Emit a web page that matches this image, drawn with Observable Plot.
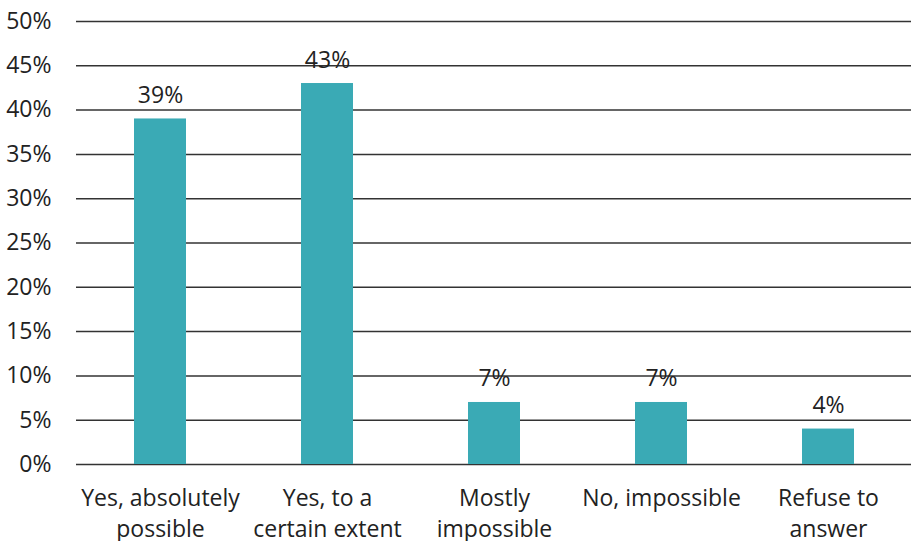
<!DOCTYPE html>
<html>
<head>
<meta charset="utf-8">
<script src="https://cdn.jsdelivr.net/npm/d3@7"></script>
<script src="https://cdn.jsdelivr.net/npm/@observablehq/plot@0.6"></script>
<style>
  html, body { margin: 0; padding: 0; background: #fff; }
  #chart svg { display: block; }
</style>
</head>
<body>
<div id="chart"></div>
<script>
const categories = ["Yes, absolutely\npossible", "Yes, to a\ncertain extent", "Mostly\nimpossible", "No, impossible", "Refuse to\nanswer"];
const values = [39, 43, 7, 7, 4];
const yTicks = [0, 5, 10, 15, 20, 25, 30, 35, 40, 45, 50];

const data = categories.map((c, i) => ({category: c, value: values[i]}));

const chart = Plot.plot({
  width: 911,
  height: 541,
  marginLeft: 76,
  marginRight: 0,
  marginTop: 21,
  marginBottom: 77,
  style: {fontFamily: "'Open Sans', 'Noto Sans', sans-serif", fontSize: "23px", color: "#222", background: "#fff"},
  x: {domain: categories, paddingInner: 0.69, paddingOuter: 0.345, label: null},
  y: {domain: [0, 50], label: null},
  marks: [
    Plot.ruleY(yTicks, {stroke: "#333", strokeWidth: 1.5}),
    Plot.barY(data, {x: "category", y: "value", fill: "#3AAAB5"}),
    Plot.text(data, {x: "category", y: "value", text: d => d.value + "%", dy: -16, lineAnchor: "bottom", fontSize: 23, fill: "#222"}),
    Plot.axisY({ticks: yTicks, tickSize: 0, tickPadding: 25, tickFormat: d => d + "%", fontSize: 23, fill: "#222", label: null}),
    Plot.axisX({tickSize: 0, tickPadding: 19, fontSize: 23, fill: "#222", lineHeight: 1.35, label: null})
  ]
});
document.getElementById("chart").appendChild(chart);
</script>
</body>
</html>
